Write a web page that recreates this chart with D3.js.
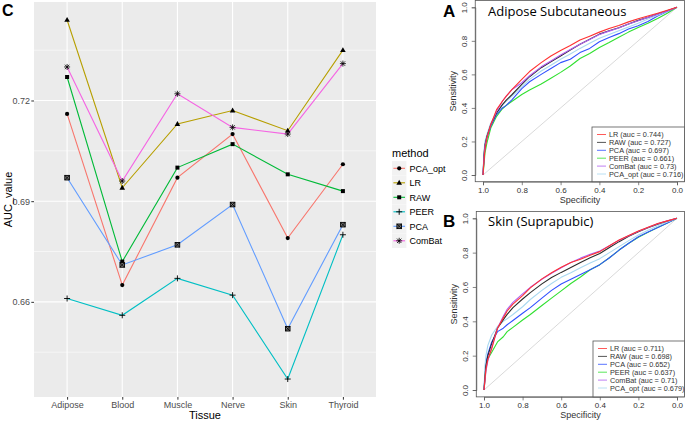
<!DOCTYPE html>
<html>
<head>
<meta charset="utf-8">
<script src="https://cdn.jsdelivr.net/npm/d3@7"></script>
<style>
  body { margin: 0; background: #fff; }
  svg { display: block; }
</style>
</head>
<body>
<div id="chart"></div>
<script>
// panel C data: AUC per tissue and method
var tissues = ["Adipose", "Blood", "Muscle", "Nerve", "Skin", "Thyroid"];
var methods = ["PCA_opt", "LR", "RAW", "PEER", "PCA", "ComBat"];
var aucPcaOpt = [0.716, 0.665, 0.697, 0.710, 0.679, 0.701];
var aucLR     = [0.744, 0.694, 0.713, 0.717, 0.711, 0.735];
var aucRAW    = [0.727, 0.672, 0.700, 0.707, 0.698, 0.693];
var aucPEER   = [0.661, 0.656, 0.667, 0.662, 0.637, 0.680];
var aucPCA    = [0.697, 0.671, 0.677, 0.689, 0.652, 0.683];
var aucComBat = [0.730, 0.696, 0.722, 0.712, 0.710, 0.731];
var yTicks = [0.66, 0.69, 0.72];

var rocSpec = [1, 0.995, 0.99, 0.98, 0.96, 0.93, 0.9, 0.88, 0.85, 0.8, 0.76, 0.7, 0.65, 0.6,
  0.55, 0.5, 0.45, 0.4, 0.35, 0.3, 0.25, 0.2, 0.15, 0.1, 0.05, 0];
var rocTicks = [1.0, 0.8, 0.6, 0.4, 0.2, 0.0];
var rocMethods = ["LR", "RAW", "PCA", "PEER", "ComBat", "PCA_opt"];

// A: Adipose Subcutaneous
var aLR     = [0, 0.08, 0.15, 0.22, 0.30, 0.39, 0.44, 0.47, 0.51, 0.57, 0.617, 0.67, 0.71, 0.742, 0.772, 0.805, 0.828, 0.852, 0.874, 0.892, 0.913, 0.932, 0.948, 0.965, 0.982, 1];
var aRAW    = [0, 0.12, 0.18, 0.23, 0.30, 0.37, 0.42, 0.447, 0.48, 0.54, 0.586, 0.64, 0.675, 0.71, 0.745, 0.78, 0.81, 0.84, 0.86, 0.878, 0.90, 0.922, 0.94, 0.96, 0.98, 1];
var aPCA    = [0, 0.10, 0.17, 0.22, 0.29, 0.36, 0.40, 0.415, 0.45, 0.515, 0.556, 0.60, 0.635, 0.67, 0.69, 0.73, 0.755, 0.795, 0.82, 0.843, 0.87, 0.89, 0.915, 0.948, 0.975, 1];
var aPEER   = [0, 0.06, 0.13, 0.19, 0.28, 0.35, 0.395, 0.415, 0.44, 0.48, 0.507, 0.543, 0.577, 0.612, 0.65, 0.695, 0.725, 0.76, 0.79, 0.822, 0.852, 0.88, 0.905, 0.933, 0.965, 1];
var aComBat = [0, 0.10, 0.17, 0.22, 0.30, 0.38, 0.44, 0.47, 0.51, 0.55, 0.592, 0.645, 0.68, 0.715, 0.748, 0.78, 0.808, 0.838, 0.858, 0.876, 0.90, 0.92, 0.94, 0.958, 0.978, 1];
var aPcaOpt = [0, 0.14, 0.20, 0.24, 0.31, 0.37, 0.415, 0.44, 0.47, 0.525, 0.57, 0.62, 0.655, 0.69, 0.722, 0.755, 0.785, 0.815, 0.838, 0.86, 0.883, 0.905, 0.93, 0.953, 0.976, 1];
var aAuc = ["0.744", "0.727", "0.697", "0.661", "0.73", "0.716"];

// B: Skin (Suprapubic)
var bLR     = [0, 0.06, 0.12, 0.18, 0.24, 0.36, 0.42, 0.46, 0.50, 0.55, 0.595, 0.647, 0.683, 0.715, 0.742, 0.762, 0.785, 0.806, 0.84, 0.874, 0.90, 0.926, 0.948, 0.97, 0.985, 1];
var bRAW    = [0, 0.08, 0.14, 0.20, 0.27, 0.36, 0.41, 0.44, 0.48, 0.53, 0.567, 0.618, 0.655, 0.685, 0.713, 0.742, 0.77, 0.795, 0.83, 0.864, 0.895, 0.922, 0.945, 0.966, 0.984, 1];
var bPCA    = [0, 0.10, 0.16, 0.21, 0.28, 0.34, 0.36, 0.38, 0.405, 0.447, 0.48, 0.535, 0.58, 0.617, 0.645, 0.673, 0.70, 0.73, 0.77, 0.815, 0.855, 0.893, 0.92, 0.946, 0.972, 1];
var bPEER   = [0, 0.06, 0.13, 0.18, 0.22, 0.28, 0.31, 0.34, 0.365, 0.408, 0.44, 0.492, 0.535, 0.577, 0.62, 0.658, 0.70, 0.73, 0.77, 0.815, 0.855, 0.89, 0.918, 0.946, 0.972, 1];
var bComBat = [0, 0.05, 0.11, 0.17, 0.25, 0.36, 0.43, 0.47, 0.51, 0.56, 0.598, 0.645, 0.68, 0.712, 0.742, 0.768, 0.79, 0.81, 0.84, 0.872, 0.898, 0.924, 0.946, 0.968, 0.985, 1];
var bPcaOpt = [0, 0.14, 0.20, 0.26, 0.32, 0.37, 0.40, 0.415, 0.44, 0.485, 0.527, 0.58, 0.62, 0.656, 0.683, 0.712, 0.74, 0.765, 0.80, 0.835, 0.87, 0.903, 0.93, 0.955, 0.978, 1];
var bAuc = ["0.711", "0.698", "0.652", "0.637", "0.71", "0.679"];

var svgWidth = 685;
var svgHeight = 421;

var svg = d3.select("#chart")
  .append("svg")
  .attr("width", svgWidth)
  .attr("height", svgHeight);

// ================= panel C =================
var ggColors = ["#F8766D", "#B79F00", "#00BA38", "#00BFC4", "#619CFF", "#F564E3"];
var series = [aucPcaOpt, aucLR, aucRAW, aucPEER, aucPCA, aucComBat];
var plotC = { left: 34, right: 376, top: 2, bottom: 397 };

var allVals = d3.merge(series);
var ext = d3.extent(allVals);
var pad = (ext[1] - ext[0]) * 0.05;

var xC = d3.scalePoint()
  .domain(tissues)
  .range([plotC.left, plotC.right])
  .padding(0.6);

var yC = d3.scaleLinear()
  .domain([ext[0] - pad, ext[1] + pad])
  .range([plotC.bottom, plotC.top]);

var gC = svg.append("g");

gC.append("rect")
  .attr("x", plotC.left)
  .attr("y", plotC.top)
  .attr("width", plotC.right - plotC.left)
  .attr("height", plotC.bottom - plotC.top)
  .attr("fill", "#EBEBEB");

// minor grid halfway between major ticks
var minorTicks = [];
var step = yTicks[1] - yTicks[0];
for (var i = -1; i < yTicks.length; i++) {
  var v = (i < 0 ? yTicks[0] - step : yTicks[i]) + step / 2;
  if (v > yC.domain()[0] && v < yC.domain()[1]) minorTicks.push(v);
}
gC.selectAll(".minor")
  .data(minorTicks)
  .enter()
  .append("line")
  .attr("x1", plotC.left).attr("x2", plotC.right)
  .attr("y1", d => yC(d)).attr("y2", d => yC(d))
  .attr("stroke", "#fff").attr("stroke-width", 0.55);

gC.selectAll(".majorY")
  .data(yTicks)
  .enter()
  .append("line")
  .attr("x1", plotC.left).attr("x2", plotC.right)
  .attr("y1", d => yC(d)).attr("y2", d => yC(d))
  .attr("stroke", "#fff").attr("stroke-width", 1.1);

gC.selectAll(".majorX")
  .data(tissues)
  .enter()
  .append("line")
  .attr("x1", d => xC(d)).attr("x2", d => xC(d))
  .attr("y1", plotC.top).attr("y2", plotC.bottom)
  .attr("stroke", "#fff").attr("stroke-width", 1.1);

// axes
var yAxisC = d3.axisLeft(yC).tickValues(yTicks).tickSize(2.7).tickFormat(d3.format(".2f"));
var xAxisC = d3.axisBottom(xC).tickSize(2.7);

var gy = gC.append("g").attr("transform", `translate(${plotC.left},0)`).call(yAxisC);
var gx = gC.append("g").attr("transform", `translate(0,${plotC.bottom})`).call(xAxisC);
[gx, gy].forEach(function(g) {
  g.select(".domain").remove();
  g.selectAll(".tick line").attr("stroke", "#333").attr("stroke-width", 1);
  g.selectAll(".tick text")
    .attr("fill", "#4D4D4D")
    .attr("font-family", "Liberation Sans, Arial, sans-serif")
    .attr("font-size", "9px");
});
gx.selectAll(".tick text").attr("dy", "0.9em").attr("y", 2.5);
gy.selectAll(".tick text").attr("x", -4);

gC.append("text")
  .attr("x", (plotC.left + plotC.right) / 2)
  .attr("y", 419)
  .attr("text-anchor", "middle")
  .attr("font-family", "Liberation Sans, Arial, sans-serif")
  .attr("font-size", "11px")
  .text("Tissue");

gC.append("text")
  .attr("transform", `translate(12, ${(plotC.top + plotC.bottom) / 2}) rotate(-90)`)
  .attr("text-anchor", "middle")
  .attr("font-family", "Liberation Sans, Arial, sans-serif")
  .attr("font-size", "11px")
  .text("AUC_value");

gC.append("text")
  .attr("x", 2).attr("y", 16)
  .attr("font-family", "Liberation Sans, Arial, sans-serif")
  .attr("font-size", "16px")
  .attr("font-weight", "bold")
  .text("C");

// point shapes in ggplot order: 16, 17, 15, 3, 7, 8
function drawShape(g, k, cx, cy) {
  var s = 2.3;
  if (k === 0) {
    g.append("circle").attr("cx", cx).attr("cy", cy).attr("r", 2.1).attr("fill", "#000");
  } else if (k === 1) {
    g.append("path")
      .attr("d", `M${cx},${cy - 3}L${cx + 2.8},${cy + 1.9}L${cx - 2.8},${cy + 1.9}Z`)
      .attr("fill", "#000");
  } else if (k === 2) {
    g.append("rect").attr("x", cx - 2).attr("y", cy - 2).attr("width", 4).attr("height", 4).attr("fill", "#000");
  } else if (k === 3) {
    g.append("path")
      .attr("d", `M${cx - 3},${cy}H${cx + 3}M${cx},${cy - 3}V${cy + 3}`)
      .attr("stroke", "#000").attr("stroke-width", 0.9).attr("fill", "none");
  } else if (k === 4) {
    g.append("rect").attr("x", cx - s).attr("y", cy - s).attr("width", 2 * s).attr("height", 2 * s)
      .attr("fill", "#777").attr("stroke", "#000").attr("stroke-width", 0.9);
    g.append("path")
      .attr("d", `M${cx - s},${cy - s}L${cx + s},${cy + s}M${cx - s},${cy + s}L${cx + s},${cy - s}`)
      .attr("stroke", "#000").attr("stroke-width", 0.8);
  } else {
    g.append("path")
      .attr("d", `M${cx - 3},${cy}H${cx + 3}M${cx},${cy - 3}V${cy + 3}M${cx - 2.2},${cy - 2.2}L${cx + 2.2},${cy + 2.2}M${cx - 2.2},${cy + 2.2}L${cx + 2.2},${cy - 2.2}`)
      .attr("stroke", "#000").attr("stroke-width", 0.8).attr("fill", "none");
  }
}

var lineC = d3.line()
  .x((d, i) => xC(tissues[i]))
  .y(d => yC(d));

// draw order follows legend order; ComBat last so it sits on top
series.forEach(function(vals, k) {
  gC.append("path")
    .datum(vals)
    .attr("d", lineC)
    .attr("fill", "none")
    .attr("stroke", ggColors[k])
    .attr("stroke-width", 1.1);
});
series.forEach(function(vals, k) {
  vals.forEach(function(v, i) {
    drawShape(gC, k, xC(tissues[i]), yC(v));
  });
});

// legend C
var legC = svg.append("g").attr("transform", "translate(392,0)");
legC.append("text")
  .attr("x", 0).attr("y", 157)
  .attr("font-family", "Liberation Sans, Arial, sans-serif")
  .attr("font-size", "11px")
  .text("method");
methods.forEach(function(m, k) {
  var cy = 168.3 + k * 14.5;
  legC.append("rect")
    .attr("x", 0).attr("y", cy - 7.2)
    .attr("width", 14.4).attr("height", 14.4)
    .attr("fill", "#F2F2F2");
  legC.append("line")
    .attr("x1", 1.4).attr("x2", 13).attr("y1", cy).attr("y2", cy)
    .attr("stroke", ggColors[k]).attr("stroke-width", 1.1);
  drawShape(legC, k, 7.2, cy);
  legC.append("text")
    .attr("x", 17.5).attr("y", cy + 3.2)
    .attr("font-family", "Liberation Sans, Arial, sans-serif")
    .attr("font-size", "9px")
    .text(m);
});

// ================= ROC panels A and B =================
var rocColors = ["#FF3030", "#2B2B2B", "#3050FF", "#30E030", "#B060F0", "#A8D8F0"];

function rocPanel(opts) {
  var x = d3.scaleLinear().domain([1, 0]).range(opts.xr);
  var y = d3.scaleLinear().domain([0, 1]).range(opts.yr);
  var g = svg.append("g");
  var fontF = "Liberation Sans, Arial, sans-serif";

  // diagonal reference
  g.append("line")
    .attr("x1", x(1)).attr("y1", y(0))
    .attr("x2", x(0)).attr("y2", y(1))
    .attr("stroke", "#CFCFCF").attr("stroke-width", 0.8);

  var line = d3.line()
    .x((d, i) => x(rocSpec[i]))
    .y(d => y(d));

  // PEER underneath, LR on top
  var order = [3, 2, 5, 1, 4, 0];
  order.forEach(function(k) {
    g.append("path")
      .datum(opts.curves[k])
      .attr("d", line)
      .attr("fill", "none")
      .attr("stroke", rocColors[k])
      .attr("stroke-width", 1.1)
      .attr("stroke-linejoin", "round");
  });

  // box
  var bx0 = x(1.04), bx1 = Math.min(x(-0.04), svgWidth - 0.5);
  var by0 = y(1.04), by1 = y(-0.04);
  g.append("rect")
    .attr("x", bx0).attr("y", by0)
    .attr("width", bx1 - bx0).attr("height", by1 - by0)
    .attr("fill", "none").attr("stroke", "#555").attr("stroke-width", 0.8);

  // axes
  var xa = g.append("g").attr("transform", `translate(0,${by1})`)
    .call(d3.axisBottom(x).tickValues(rocTicks).tickSize(3.5).tickFormat(d3.format(".1f")));
  var ya = g.append("g").attr("transform", `translate(${bx0},0)`)
    .call(d3.axisLeft(y).tickValues(rocTicks).tickSize(3.5).tickFormat(d3.format(".1f")));
  [xa, ya].forEach(function(a) {
    a.select(".domain").attr("stroke", "#555").attr("stroke-width", 0.7);
    a.selectAll(".tick line").attr("stroke", "#555").attr("stroke-width", 0.7);
    a.selectAll(".tick text").attr("font-family", fontF).attr("font-size", "8px").attr("fill", "#333");
  });
  xa.selectAll(".tick text").attr("y", 5.5);
  ya.selectAll(".tick text")
    .attr("x", 0).attr("dy", 0)
    .attr("text-anchor", "middle")
    .attr("transform", "translate(-8.5,0) rotate(-90)");

  g.append("text")
    .attr("x", (x(1) + x(0)) / 2).attr("y", by1 + 21)
    .attr("text-anchor", "middle")
    .attr("font-family", fontF).attr("font-size", "9px").attr("fill", "#333")
    .text("Specificity");
  g.append("text")
    .attr("transform", `translate(${bx0 - 19},${(y(0) + y(1)) / 2}) rotate(-90)`)
    .attr("text-anchor", "middle")
    .attr("font-family", fontF).attr("font-size", "9px").attr("fill", "#333")
    .text("Sensitivity");

  g.append("text")
    .attr("x", 488).attr("y", opts.titleY)
    .attr("font-family", "Open Sans, sans-serif").attr("font-size", "13px")
    .text(opts.title);
  g.append("text")
    .attr("x", 443).attr("y", opts.titleY + 1)
    .attr("font-family", fontF).attr("font-size", "17px").attr("font-weight", "bold")
    .text(opts.letter);

  // legend box sits on the bottom of the plot box
  var lx = opts.legX, ly = opts.legY;
  g.append("rect")
    .attr("x", lx).attr("y", ly)
    .attr("width", bx1 - lx).attr("height", by1 - ly)
    .attr("fill", "#fff").attr("stroke", "#555").attr("stroke-width", 0.8);
  rocMethods.forEach(function(m, k) {
    var ry = ly + 7.5 + k * 7.9;
    g.append("line")
      .attr("x1", lx + 5).attr("x2", lx + 14).attr("y1", ry).attr("y2", ry)
      .attr("stroke", rocColors[k]).attr("stroke-width", 0.8);
    g.append("text")
      .attr("x", lx + 17).attr("y", ry + 2.6)
      .attr("font-family", fontF).attr("font-size", "7.3px").attr("fill", "#333")
      .text(`${m} (auc = ${opts.auc[k]})`);
  });
}

rocPanel({
  xr: [483, 677], yr: [175, 7.3],
  curves: [aLR, aRAW, aPCA, aPEER, aComBat, aPcaOpt],
  auc: aAuc, title: "Adipose Subcutaneous", letter: "A", titleY: 16,
  legX: 592, legY: 127
});
rocPanel({
  xr: [484, 677], yr: [390, 218.3],
  curves: [bLR, bRAW, bPCA, bPEER, bComBat, bPcaOpt],
  auc: bAuc, title: "Skin (Suprapubic)", letter: "B", titleY: 226,
  legX: 593, legY: 341
});
</script>
</body>
</html>
